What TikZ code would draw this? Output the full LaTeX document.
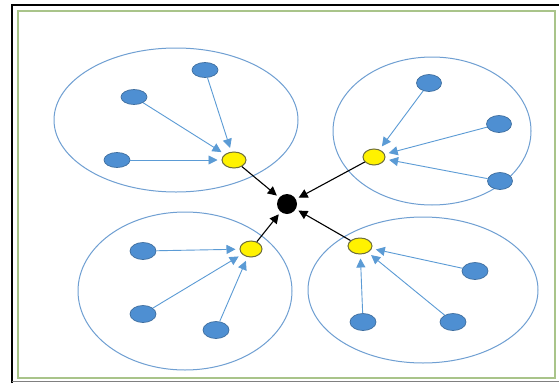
\documentclass[tikz,border=0pt]{standalone}
\usetikzlibrary{arrows.meta,shapes.geometric}
\definecolor{nodeblue}{HTML}{4E8FD2}
\definecolor{nodeedge}{HTML}{3F6E9E}
\definecolor{linkblue}{HTML}{5B9BD5}
\definecolor{ringblue}{HTML}{6F9FD2}
\definecolor{framegreen}{HTML}{A9C48A}
\definecolor{yedge}{HTML}{6E6E3A}
\tikzset{
  member/.style={ellipse, draw=nodeedge, fill=nodeblue, line width=0.7pt, minimum width=26pt, minimum height=15pt, inner sep=0pt},
  head/.style={ellipse, draw=yedge, fill=yellow, line width=1pt, minimum width=24pt, minimum height=16pt, inner sep=0pt},
  sink/.style={circle, fill=black, minimum size=20pt, inner sep=0pt},
  ring/.style={draw=ringblue, line width=1pt},
  link/.style={draw=linkblue, line width=0.9pt, -{Triangle[length=9pt,width=9pt]}, shorten >=4pt},
  uplink/.style={draw=black, line width=1.1pt, -{Triangle[length=9pt,width=9pt]}, shorten >=3pt}
}
\begin{document}
\begin{tikzpicture}[x=1pt,y=-1pt]
\useasboundingbox (0,0) rectangle (559,383);
\fill[white] (0,0) rectangle (559,383);
% frames
\draw[black, line width=2.5pt] (12,383) -- (12,5) -- (559,5);
\draw[gray, line width=1.5pt] (12,381.5) -- (559,381.5);
\draw[framegreen, line width=1.5pt] (18,11) rectangle (555,378);
% rings
\draw[ring] (176,120) ellipse [x radius=122, y radius=72];
\draw[ring] (432,131) ellipse [x radius=99, y radius=74];
\draw[ring] (185,291) ellipse [x radius=107, y radius=79];
\draw[ring] (423,290) ellipse [x radius=115, y radius=73];
% nodes
\node[sink] (c) at (287,204) {};
\node[head] (h1) at (234,160) {};
\node[member] (a1) at (205,70) {};
\node[member] (a2) at (134,97) {};
\node[member] (a3) at (117,160) {};
\node[head, minimum width=22pt] (h2) at (374,157) {};
\node[member, minimum width=25pt, minimum height=17pt] (b1) at (429,83) {};
\node[member, minimum width=25pt, minimum height=17pt] (b2) at (499,124) {};
\node[member, minimum width=25pt, minimum height=17pt] (b3) at (500,181) {};
\node[head, minimum width=22pt] (h3) at (251,249) {};
\node[member, minimum height=17pt] (d1) at (143,251) {};
\node[member, minimum height=17pt] (d2) at (143,314) {};
\node[member, minimum height=17pt] (d3) at (216,330) {};
\node[head] (h4) at (360,246) {};
\node[member, minimum height=17pt] (e1) at (475,271) {};
\node[member, minimum height=17pt] (e2) at (363,322) {};
\node[member, minimum height=17pt] (e3) at (453,322) {};
% member links
\draw[link] (a1) -- (h1);
\draw[link] (a2) -- (h1);
\draw[link] (a3) -- (h1);
\draw[link] (b1) -- (h2);
\draw[link] (b2) -- (h2);
\draw[link] (b3) -- (h2);
\draw[link] (d1) -- (h3);
\draw[link] (d2) -- (h3);
\draw[link] (d3) -- (h3);
\draw[link] (e1) -- (h4);
\draw[link] (e2) -- (h4);
\draw[link] (e3) -- (h4);
% head links
\draw[uplink] (h1) -- (c);
\draw[uplink] (h2) -- (c);
\draw[uplink] (h3) -- (c);
\draw[uplink] (h4) -- (c);
\end{tikzpicture}
\end{document}
